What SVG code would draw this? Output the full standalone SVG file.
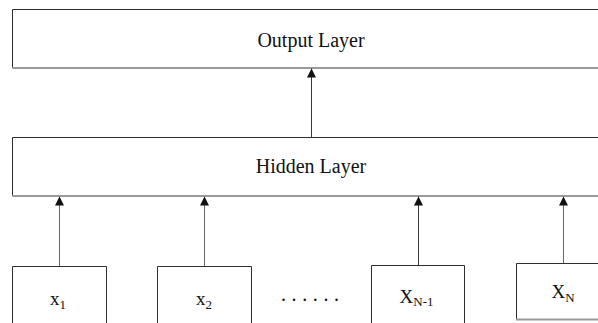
<svg xmlns="http://www.w3.org/2000/svg" width="598" height="323" viewBox="0 0 598 323">
  <style>
    .edge { fill: none; stroke: #2e2e2e; stroke-width: 1; }
    .base { fill: none; stroke: #9a9a9a; stroke-width: 2; }
    .label { font-family: "Liberation Serif", "Times New Roman", serif; font-size: 20px; fill: #111; text-anchor: middle; }
    .inp { font-family: "Liberation Serif", "Times New Roman", serif; font-size: 19px; fill: #111; text-anchor: middle; }
    .sub { font-size: 13px; }
    .link { fill: none; stroke: #3a3a3a; stroke-width: 1; }
    .link.in { stroke: #6a6a6a; }
  </style>
  <defs>
    <marker id="head" viewBox="0 0 9 9" refX="9" refY="4.5" markerWidth="9" markerHeight="9" markerUnits="userSpaceOnUse" orient="auto">
      <path d="M0,0 L9,4.5 L0,9 z" fill="#111"/>
    </marker>
  </defs>
  <rect width="598" height="323" fill="#fff"/>

  <!-- output layer -->
  <g id="output-layer">
    <path class="edge" d="M620,9.5 H12.5 V68"/>
    <path class="base" d="M12,68 H620"/>
    <text class="label" x="311" y="46.5">Output Layer</text>
  </g>

  <!-- hidden layer -->
  <g id="hidden-layer">
    <path class="edge" d="M620,137.5 H12.5 V196"/>
    <path class="base" d="M12,196 H620"/>
    <text class="label" x="311" y="173">Hidden Layer</text>
  </g>

  <!-- input nodes -->
  <g id="input-x1">
    <path class="edge" d="M12.5,330 V266.5 H106.5 V330"/>
    <text class="inp" x="58" y="305">x<tspan class="sub" dy="4">1</tspan></text>
  </g>
  <g id="input-x2">
    <path class="edge" d="M157.5,330 V266.5 H251.5 V330"/>
    <text class="inp" x="204" y="305">x<tspan class="sub" dy="4">2</tspan></text>
  </g>
  <g id="ellipsis">
    <text x="281" y="301" style="font-family: 'Liberation Serif', serif; font-size: 20px; letter-spacing: 5.6px; fill: #111;">......</text>
  </g>
  <g id="input-xn-1">
    <path class="edge" d="M371.5,330 V265.5 H464.5 V330"/>
    <text class="inp" x="416.5" y="303">X<tspan class="sub" dy="3">N-1</tspan></text>
  </g>
  <g id="input-xn">
    <path class="edge" d="M620,263.5 H516.5 V319.5"/>
    <path class="base" d="M516,319.5 H620"/>
    <text class="inp" x="563" y="298">X<tspan class="sub" dy="4">N</tspan></text>
  </g>

  <!-- connectors -->
  <g id="connectors">
    <line class="link" x1="311.5" y1="137" x2="311.5" y2="68.5" marker-end="url(#head)"/>
    <line class="link in" x1="59.5" y1="266" x2="59.5" y2="196.5" marker-end="url(#head)"/>
    <line class="link in" x1="204.5" y1="266" x2="204.5" y2="196.5" marker-end="url(#head)"/>
    <line class="link" x1="418.5" y1="265" x2="418.5" y2="196.5" marker-end="url(#head)"/>
    <line class="link in" x1="563.5" y1="263" x2="563.5" y2="196.5" marker-end="url(#head)"/>
  </g>
</svg>
